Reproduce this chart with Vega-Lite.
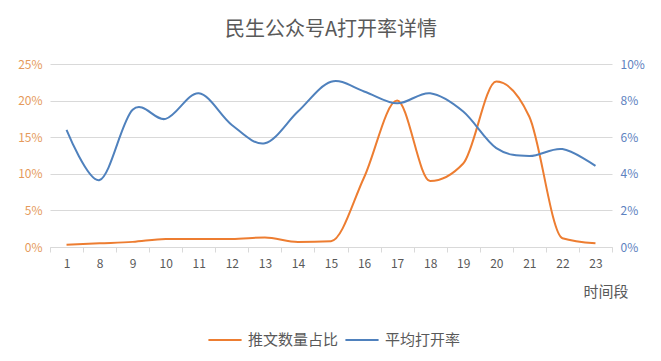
{
  "$schema": "https://vega.github.io/schema/vega-lite/v6.json",
  "autosize": {"type": "none"},
  "width": 562,
  "height": 183,
  "padding": {"left": 50, "top": 64, "right": 49, "bottom": 114},
  "background": "white",
  "config": {
    "font": "Noto Sans CJK SC",
    "view": {"stroke": null}
  },
  "title": {
    "text": "民生公众号A打开率详情",
    "fontSize": 20,
    "fontWeight": "normal",
    "color": "#595959",
    "anchor": "middle",
    "offset": 18
  },
  "data": {
    "values": [
      {"t": "1", "share": 0.003, "rate": 0.064},
      {"t": "8", "share": 0.005, "rate": 0.0366},
      {"t": "9", "share": 0.007, "rate": 0.075},
      {"t": "10", "share": 0.011, "rate": 0.070},
      {"t": "11", "share": 0.011, "rate": 0.084},
      {"t": "12", "share": 0.011, "rate": 0.0667},
      {"t": "13", "share": 0.013, "rate": 0.0567},
      {"t": "14", "share": 0.007, "rate": 0.074},
      {"t": "15", "share": 0.008, "rate": 0.0903},
      {"t": "16", "share": 0.095, "rate": 0.085},
      {"t": "17", "share": 0.200, "rate": 0.0785},
      {"t": "18", "share": 0.090, "rate": 0.084},
      {"t": "19", "share": 0.114, "rate": 0.074},
      {"t": "20", "share": 0.226, "rate": 0.054},
      {"t": "21", "share": 0.178, "rate": 0.0497},
      {"t": "22", "share": 0.012, "rate": 0.0535},
      {"t": "23", "share": 0.005, "rate": 0.0443}
    ]
  },
  "encoding": {
    "x": {
      "field": "t",
      "type": "ordinal",
      "sort": null,
      "scale": {"paddingInner": 0, "paddingOuter": 0},
      "axis": {
        "title": "时间段",
        "titleAnchor": "end",
        "titleAlign": "right",
        "titleX": 578,
        "titleFontSize": 15,
        "titleFontWeight": "normal",
        "titleColor": "#595959",
        "titlePadding": 15,
        "labelAngle": 0,
        "labelFontSize": 12,
        "labelColor": "#595959",
        "labelPadding": 6,
        "domainColor": "#d9d9d9",
        "tickColor": "#d9d9d9",
        "tickSize": 5,
        "tickBand": "extent",
        "grid": false
      }
    }
  },
  "layer": [
    {
      "mark": {"type": "line", "interpolate": "monotone", "strokeWidth": 2, "color": "#ED7D31"},
      "encoding": {
        "y": {
          "field": "share",
          "type": "quantitative",
          "scale": {"domain": [0, 0.25]},
          "axis": {
            "title": null,
            "format": ".0%",
            "values": [0, 0.05, 0.1, 0.15, 0.2, 0.25],
            "labelColor": "#E59A5C",
            "labelFontSize": 12,
            "labelPadding": 8,
            "domain": false,
            "ticks": false,
            "gridColor": "#d9d9d9",
            "gridWidth": 1
          }
        },
        "color": {
          "datum": "推文数量占比",
          "type": "nominal",
          "scale": {"domain": ["推文数量占比", "平均打开率"], "range": ["#ED7D31", "#4F81BD"]},
          "legend": {
            "title": null,
            "orient": "none",
            "legendX": 157,
            "legendY": 258,
            "direction": "horizontal",
            "symbolType": "stroke",
            "symbolStrokeWidth": 2,
            "symbolSize": 1100,
            "labelFontSize": 15,
            "labelColor": "#595959",
            "labelOffset": 5,
            "columnPadding": 2
          }
        }
      }
    },
    {
      "mark": {"type": "line", "interpolate": "cardinal", "strokeWidth": 2, "color": "#4F81BD"},
      "encoding": {
        "y": {
          "field": "rate",
          "type": "quantitative",
          "scale": {"domain": [0, 0.10]},
          "axis": {
            "title": null,
            "orient": "right",
            "format": ".0%",
            "values": [0, 0.02, 0.04, 0.06, 0.08, 0.10],
            "labelColor": "#5E82C0",
            "labelFontSize": 12,
            "labelPadding": 8,
            "domain": false,
            "ticks": false,
            "grid": false
          }
        },
        "color": {"datum": "平均打开率", "type": "nominal"}
      }
    }
  ],
  "resolve": {"scale": {"y": "independent"}}
}
